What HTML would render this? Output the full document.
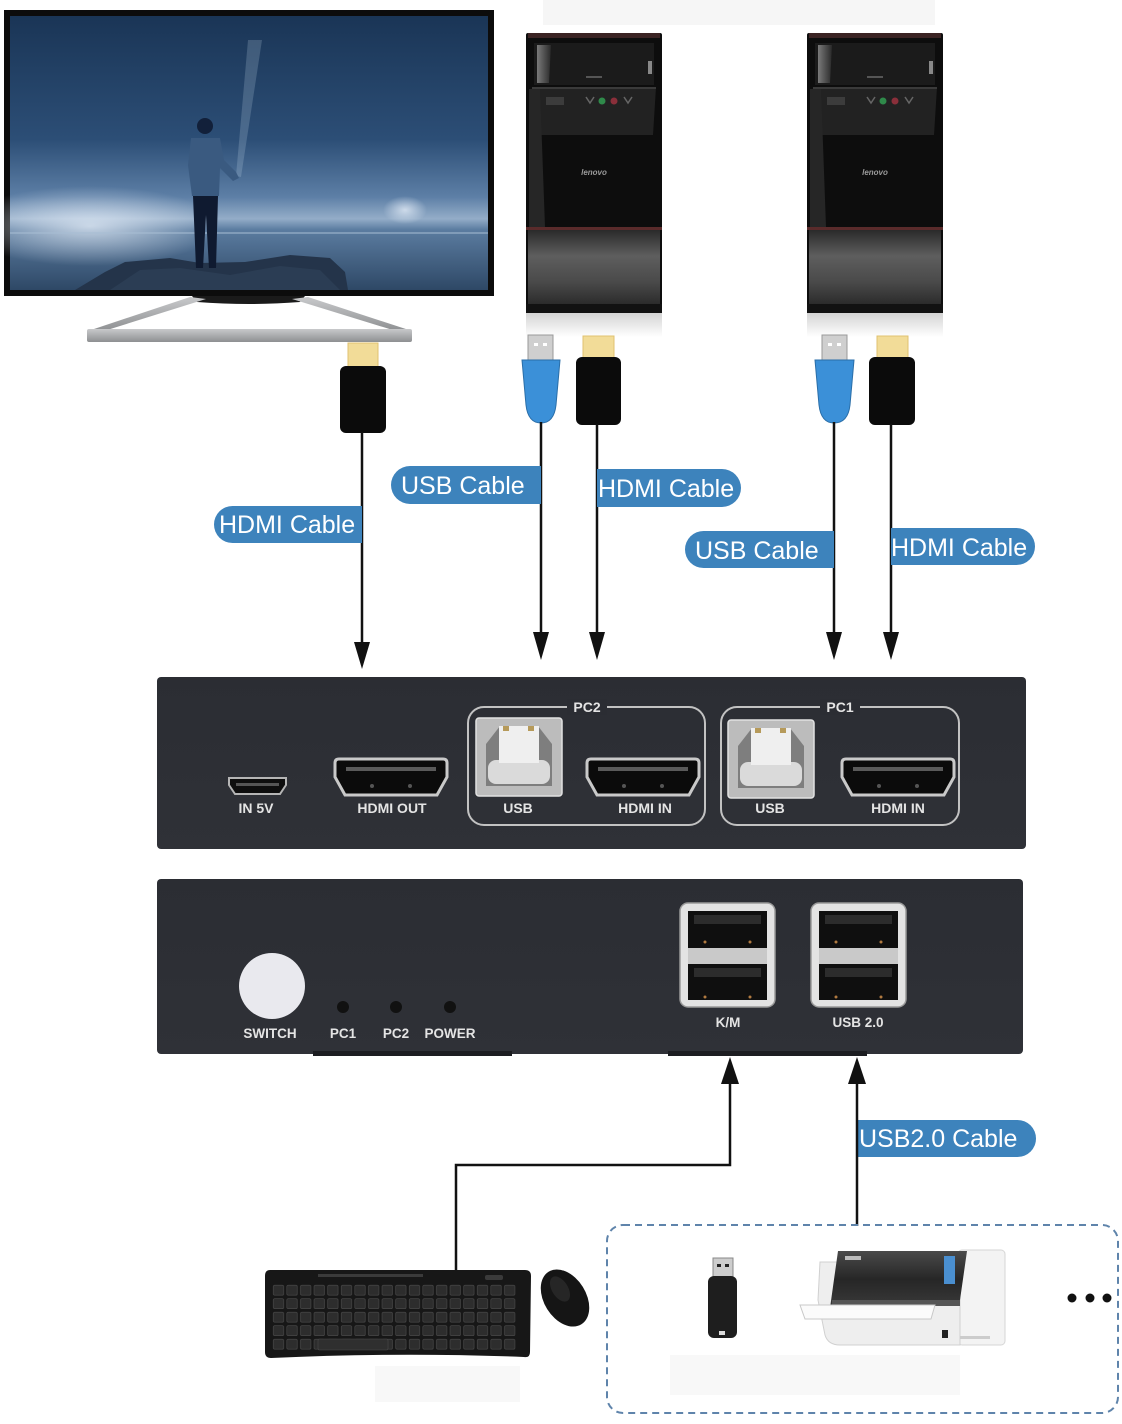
<!DOCTYPE html>
<html><head><meta charset="utf-8"><style>
html,body{margin:0;padding:0;background:#fff;}
svg{display:block;}
.pl{font-family:"Liberation Sans",Arial,sans-serif;font-weight:bold;fill:#e4e4e4;text-anchor:middle;}
.cl{font-family:"Liberation Sans",Arial,sans-serif;fill:#fff;font-size:25px;}
</style></head><body>
<svg width="1122" height="1424" viewBox="0 0 1122 1424" xmlns="http://www.w3.org/2000/svg">
<defs>
<linearGradient id="sky" x1="0" y1="0" x2="0" y2="1">
<stop offset="0" stop-color="#1a3556"/>
<stop offset="0.45" stop-color="#2c4e76"/>
<stop offset="0.66" stop-color="#5d7fa6"/>
<stop offset="0.74" stop-color="#94adc8"/>
<stop offset="0.78" stop-color="#5b7ca0"/>
<stop offset="1" stop-color="#2e4866"/>
</linearGradient>
<radialGradient id="glow" cx="0.5" cy="0.5" r="0.5">
<stop offset="0" stop-color="#e8f0fa" stop-opacity="0.75"/>
<stop offset="1" stop-color="#e8f0fa" stop-opacity="0"/>
</radialGradient>
<linearGradient id="stand" x1="0" y1="0" x2="0" y2="1">
<stop offset="0" stop-color="#c8c9cb"/>
<stop offset="1" stop-color="#8e9092"/>
</linearGradient>
<linearGradient id="band" x1="0" y1="0" x2="0" y2="1">
<stop offset="0" stop-color="#2a2a2a"/>
<stop offset="0.35" stop-color="#5e5e5e"/>
<stop offset="0.7" stop-color="#4a4a4a"/>
<stop offset="1" stop-color="#2c2c2c"/>
</linearGradient>
<linearGradient id="refl" x1="0" y1="0" x2="0" y2="1">
<stop offset="0" stop-color="#d4d4d4"/>
<stop offset="1" stop-color="#ffffff"/>
</linearGradient>
<linearGradient id="hl" x1="0" y1="0" x2="1" y2="0">
<stop offset="0" stop-color="#7a7a7a"/>
<stop offset="1" stop-color="#2a2a2a"/>
</linearGradient>
<linearGradient id="panel" x1="0" y1="0" x2="0" y2="1">
<stop offset="0" stop-color="#2b2d33"/>
<stop offset="1" stop-color="#2f3137"/>
</linearGradient>
<linearGradient id="win" x1="0" y1="0" x2="0" y2="1">
<stop offset="0" stop-color="#4a4a4a"/>
<stop offset="0.5" stop-color="#262626"/>
<stop offset="1" stop-color="#3a3a3a"/>
</linearGradient>
<pattern id="keys" x="272" y="1284" width="13.6" height="13.5" patternUnits="userSpaceOnUse">
<rect x="1.2" y="1.2" width="10.5" height="10" rx="1.5" fill="#2d2d2d" stroke="#4a4a4a" stroke-width="0.6"/>
</pattern>
</defs>

<!-- faint top box -->
<rect x="543" y="0" width="392" height="25" fill="#f6f6f6"/>

<!-- ===== Monitor ===== -->
<rect x="4" y="10" width="490" height="286" fill="#0c0c0c"/>
<rect x="10" y="16" width="478" height="274" fill="url(#sky)"/>
<ellipse cx="90" cy="226" rx="130" ry="40" fill="url(#glow)"/>
<ellipse cx="405" cy="210" rx="22" ry="14" fill="url(#glow)"/>
<rect x="10" y="232" width="478" height="2" fill="#a8bdd4" opacity="0.5"/>
<polygon points="236,176 248,40 262,40 241,177" fill="#cfe0f2" opacity="0.2"/>
<!-- rocks -->
<polygon points="75,290 105,272 125,262 170,258 200,263 245,262 290,255 330,258 345,272 348,290" fill="#24344a"/>
<polygon points="110,290 140,270 180,268 230,275 280,266 320,270 340,290" fill="#2f4158" opacity="0.7"/>
<!-- person -->
<circle cx="205" cy="126" r="8" fill="#12203a"/>
<path d="M191,138 L220,138 L224,160 L236,172 L239,178 L233,181 L220,168 L219,196 L192,196 L188,165 Z" fill="#3a5a80"/>
<path d="M193,196 L218,196 L216,268 L209,268 L206,215 L203,268 L196,268 Z" fill="#0f1a30"/>
<rect x="4" y="290" width="490" height="6" fill="#0c0c0c"/>
<!-- stand -->
<path d="M192,296 L305,296 L300,302 Q250,306 197,302 Z" fill="#1a1a1a"/>
<polygon points="190,297 206,299 104,331 88,331" fill="url(#stand)"/>
<polygon points="292,299 308,297 412,331 396,331" fill="url(#stand)"/>
<rect x="87" y="329" width="325" height="13" rx="2" fill="url(#stand)"/>
<!-- monitor HDMI connector -->
<rect x="348" y="343" width="30" height="26" fill="#f2dc98" stroke="#e0c270" stroke-width="1"/>
<rect x="340" y="366" width="46" height="67" rx="6" fill="#0b0b0b"/>
<line x1="362" y1="432" x2="362" y2="645" stroke="#111" stroke-width="2.5"/>
<polygon points="354,642 370,642 362,669" fill="#111"/>

<!-- ===== PC towers ===== -->
<g id="tower" transform="translate(526,33)">
<rect x="0" y="0" width="136" height="280" rx="2" fill="#0d0d0d"/>
<rect x="2" y="0" width="132" height="5" fill="#3b2323"/>
<rect x="8" y="10" width="120" height="42" fill="#1b1b1b"/>
<polygon points="11,12 25,12 23,50 11,50" fill="url(#hl)"/>
<rect x="60" y="43" width="16" height="2" fill="#555"/>
<rect x="122" y="28" width="4" height="13" fill="#888"/>
<polygon points="6,54 130,54 127,102 9,102" fill="#222"/>
<rect x="6" y="54" width="124" height="2" fill="#3a3a3a"/>
<rect x="20" y="64" width="18" height="8" fill="#3c3c3c"/>
<circle cx="76" cy="68" r="3.5" fill="#2f8a4a"/>
<circle cx="88" cy="68" r="3.5" fill="#8a2f3a"/>
<path d="M60,64 l4,6 l4,-6 M98,64 l4,6 l4,-6" stroke="#666" stroke-width="1.5" fill="none"/>
<polygon points="3,56 14,56 19,194 3,194" fill="#262626"/>
<text x="68" y="142" font-family="Liberation Sans, sans-serif" font-size="8" font-style="italic" font-weight="bold" fill="#9a9a9a" text-anchor="middle">lenovo</text>
<rect x="0" y="194" width="136" height="3" fill="#5a2b2b"/>
<rect x="2" y="197" width="132" height="74" fill="url(#band)"/>
<rect x="0" y="271" width="136" height="9" fill="#121212"/>
<rect x="0" y="280" width="136" height="24" fill="url(#refl)"/>
</g>
<use href="#tower" transform="translate(281,0)"/>

<!-- PC2 connectors -->
<rect x="528" y="335" width="25" height="28" fill="#cfcfcf" stroke="#9a9a9a"/>
<rect x="534" y="343" width="4" height="3" fill="#fff"/><rect x="543" y="343" width="4" height="3" fill="#fff"/>
<path d="M522,360 L560,360 L556,405 Q554,423 541,423 Q528,423 526,405 Z" fill="#3b90d8" stroke="#2a6ea8"/>
<rect x="583" y="336" width="31" height="24" fill="#f2dc98" stroke="#e0c270"/>
<rect x="576" y="357" width="45" height="68" rx="6" fill="#0b0b0b"/>
<line x1="541" y1="422" x2="541" y2="635" stroke="#111" stroke-width="2.5"/>
<polygon points="533,632 549,632 541,660" fill="#111"/>
<line x1="597" y1="424" x2="597" y2="635" stroke="#111" stroke-width="2.5"/>
<polygon points="589,632 605,632 597,660" fill="#111"/>
<!-- PC1 connectors -->
<rect x="822" y="335" width="25" height="28" fill="#cfcfcf" stroke="#9a9a9a"/>
<rect x="828" y="343" width="4" height="3" fill="#fff"/><rect x="837" y="343" width="4" height="3" fill="#fff"/>
<path d="M815,360 L854,360 L850,405 Q848,423 834,423 Q821,423 819,405 Z" fill="#3b90d8" stroke="#2a6ea8"/>
<rect x="877" y="336" width="31" height="24" fill="#f2dc98" stroke="#e0c270"/>
<rect x="869" y="357" width="46" height="68" rx="6" fill="#0b0b0b"/>
<line x1="834" y1="422" x2="834" y2="635" stroke="#111" stroke-width="2.5"/>
<polygon points="826,632 842,632 834,660" fill="#111"/>
<line x1="891" y1="424" x2="891" y2="635" stroke="#111" stroke-width="2.5"/>
<polygon points="883,632 899,632 891,660" fill="#111"/>

<!-- ===== Cable labels ===== -->
<g fill="#3d83bc">
<rect x="214" y="506" width="148" height="37" rx="18.5"/><rect x="300" y="506" width="62" height="37"/>
<rect x="391" y="466" width="150" height="38" rx="19"/><rect x="480" y="466" width="61" height="38"/>
<rect x="597" y="469" width="144" height="38" rx="19"/><rect x="597" y="469" width="60" height="38"/>
<rect x="685" y="531" width="149" height="37" rx="18.5"/><rect x="770" y="531" width="64" height="37"/>
<rect x="891" y="528" width="144" height="37" rx="18.5"/><rect x="891" y="528" width="60" height="37"/>
<rect x="857" y="1120" width="179" height="37" rx="18.5"/><rect x="857" y="1120" width="60" height="37"/>
</g>
<text class="cl" x="219" y="533">HDMI Cable</text>
<text class="cl" x="401" y="494">USB Cable</text>
<text class="cl" x="598" y="497">HDMI Cable</text>
<text class="cl" x="695" y="559">USB Cable</text>
<text class="cl" x="891" y="556">HDMI Cable</text>
<text class="cl" x="859" y="1147">USB2.0 Cable</text>

<!-- ===== KVM back panel ===== -->
<rect x="157" y="677" width="869" height="172" rx="4" fill="url(#panel)"/>
<!-- micro usb -->
<path d="M229,778 L286,778 L286,785 L280,794 L235,794 L229,785 Z" fill="#0e0e0e" stroke="#b5b5b5" stroke-width="2"/>
<rect x="236" y="783" width="43" height="3" fill="#555"/>
<text class="pl" x="256" y="813" font-size="14">IN 5V</text>
<!-- HDMI ports -->
<g id="hdmi">
<path d="M339,759 L443,759 Q447,759 447,763 L447,777 L437,795 L345,795 L335,777 L335,763 Q335,759 339,759 Z" fill="#0b0b0b" stroke="#c9c9c9" stroke-width="3"/>
<rect x="346" y="767" width="90" height="4" fill="#5a5a5a"/>
<circle cx="372" cy="786" r="2" fill="#555"/><circle cx="410" cy="786" r="2" fill="#555"/>
</g>
<text class="pl" x="392" y="813" font-size="14">HDMI OUT</text>
<use href="#hdmi" transform="translate(252,0)"/>
<use href="#hdmi" transform="translate(507,0)"/>
<!-- PC2 group -->
<rect x="468" y="707" width="237" height="118" rx="16" fill="none" stroke="#c2c2c2" stroke-width="2"/>
<rect x="567" y="699" width="40" height="16" fill="#2b2d33"/>
<text class="pl" x="587" y="712" font-size="14">PC2</text>
<!-- PC1 group -->
<rect x="721" y="707" width="238" height="118" rx="16" fill="none" stroke="#c2c2c2" stroke-width="2"/>
<rect x="820" y="699" width="40" height="16" fill="#2b2d33"/>
<text class="pl" x="840" y="712" font-size="14">PC1</text>
<!-- USB-B -->
<g id="usbb">
<rect x="476" y="718" width="86" height="78" rx="3" fill="#bcbcbc" stroke="#e2e2e2" stroke-width="1.5"/>
<path d="M486,786 L486,744 L500,726 L538,726 L552,744 L552,786 Z" fill="#7e7e7e"/>
<rect x="488" y="760" width="62" height="24" rx="8" fill="#dadada"/>
<rect x="499" y="726" width="40" height="37" fill="#efefef"/>
<rect x="503" y="726" width="6" height="5" fill="#b69a5a"/><rect x="528" y="726" width="6" height="5" fill="#b69a5a"/>
</g>
<text class="pl" x="518" y="813" font-size="14">USB</text>
<use href="#usbb" transform="translate(252,2)"/>
<text class="pl" x="770" y="813" font-size="14">USB</text>
<text class="pl" x="645" y="813" font-size="14">HDMI IN</text>
<text class="pl" x="898" y="813" font-size="14">HDMI IN</text>

<!-- ===== KVM front panel ===== -->
<rect x="157" y="879" width="866" height="175" rx="4" fill="url(#panel)"/>
<rect x="313" y="1051" width="199" height="5" fill="#1c1d21"/>
<rect x="668" y="1051" width="199" height="5" fill="#1c1d21"/>
<circle cx="272" cy="986" r="33" fill="#e9e9ee"/>
<circle cx="343" cy="1007" r="6" fill="#111"/>
<circle cx="396" cy="1007" r="6" fill="#111"/>
<circle cx="450" cy="1007" r="6" fill="#111"/>
<text class="pl" x="270" y="1038" font-size="13.5">SWITCH</text>
<text class="pl" x="343" y="1038" font-size="13.5">PC1</text>
<text class="pl" x="396" y="1038" font-size="13.5">PC2</text>
<text class="pl" x="450" y="1038" font-size="13.5">POWER</text>
<g id="usba">
<rect x="680" y="903" width="95" height="104" rx="8" fill="#e3e3e3" stroke="#9a9a9a" stroke-width="1.5"/>
<rect x="688" y="911" width="79" height="37" fill="#0f0f0f"/>
<rect x="694" y="915" width="67" height="9" fill="#2c2c2c"/>
<rect x="688" y="948" width="79" height="16" fill="#c9c9c9"/>
<rect x="688" y="964" width="79" height="36" fill="#0f0f0f"/>
<rect x="694" y="968" width="67" height="9" fill="#2c2c2c"/>
<circle cx="705" cy="942" r="1.5" fill="#b07a40"/><circle cx="750" cy="942" r="1.5" fill="#b07a40"/>
<circle cx="705" cy="997" r="1.5" fill="#b07a40"/><circle cx="750" cy="997" r="1.5" fill="#b07a40"/>
</g>
<use href="#usba" transform="translate(131,0)"/>
<text class="pl" x="728" y="1027" font-size="13.5">K/M</text>
<text class="pl" x="858" y="1027" font-size="13.5">USB 2.0</text>

<!-- ===== Up arrows ===== -->
<polyline points="456,1270 456,1165 730,1165 730,1080" fill="none" stroke="#111" stroke-width="2.5"/>
<polygon points="730,1057 721,1084 739,1084" fill="#111"/>
<line x1="857" y1="1226" x2="857" y2="1080" stroke="#111" stroke-width="2.5"/>
<polygon points="857,1057 848,1084 866,1084" fill="#111"/>

<!-- ===== Keyboard & mouse ===== -->
<rect x="375" y="1366" width="145" height="36" fill="#f8f8f8"/>
<path d="M270,1270 L525,1270 Q531,1270 531,1276 L530,1352 Q530,1358 524,1357 Q400,1352 271,1358 Q265,1358 265,1352 L265,1276 Q265,1270 270,1270 Z" fill="#171717"/>
<rect x="272" y="1284" width="245" height="68" fill="url(#keys)"/>
<rect x="318" y="1274" width="105" height="3" fill="#3a3a3a"/>
<rect x="485" y="1275" width="18" height="5" rx="2" fill="#3a3a3a"/>
<rect x="318" y="1339" width="70" height="11" rx="1.5" fill="#2f2f2f" stroke="#4a4a4a" stroke-width="0.6"/>
<ellipse cx="565" cy="1298" rx="21" ry="31" transform="rotate(-32 565 1298)" fill="#151515"/>
<ellipse cx="560" cy="1289" rx="8" ry="14" transform="rotate(-32 560 1289)" fill="#262626"/>

<!-- ===== Dashed peripherals box ===== -->
<rect x="607" y="1225" width="511" height="188" rx="16" fill="none" stroke="#5f84ab" stroke-width="2" stroke-dasharray="7,5"/>
<rect x="670" y="1355" width="290" height="40" fill="#f8f8f8"/>
<!-- USB stick -->
<rect x="713" y="1258" width="20" height="21" fill="#cdcdcd" stroke="#888"/>
<rect x="717" y="1264" width="4" height="3" fill="#222"/><rect x="725" y="1264" width="4" height="3" fill="#222"/>
<rect x="708" y="1276" width="29" height="62" rx="6" fill="#1e1e1e"/>
<rect x="719" y="1331" width="6" height="4" fill="#ddd"/>
<!-- printer -->
<rect x="958" y="1250" width="47" height="95" rx="4" fill="#f3f3f3" stroke="#d6d6d6"/>
<path d="M820,1262 L960,1262 L960,1345 L840,1345 Q828,1345 825,1335 L818,1300 Z" fill="#eeeeee" stroke="#d0d0d0"/>
<polygon points="838,1251 967,1251 960,1300 830,1308" fill="url(#win)"/>
<rect x="845" y="1256" width="16" height="4" fill="#bbb"/>
<rect x="944" y="1256" width="11" height="28" fill="#4a8fd0"/>
<rect x="832" y="1300" width="128" height="6" fill="#555"/>
<polygon points="800,1305 935,1305 931,1319 805,1319" fill="#fbfbfb" stroke="#c8c8c8"/>
<rect x="942" y="1330" width="6" height="8" fill="#222"/>
<rect x="960" y="1336" width="30" height="3" fill="#ccc"/>
<!-- dots -->
<circle cx="1072" cy="1298" r="4.5" fill="#111"/>
<circle cx="1090" cy="1298" r="4.5" fill="#111"/>
<circle cx="1107" cy="1298" r="4.5" fill="#111"/>
</svg>
</body></html>
